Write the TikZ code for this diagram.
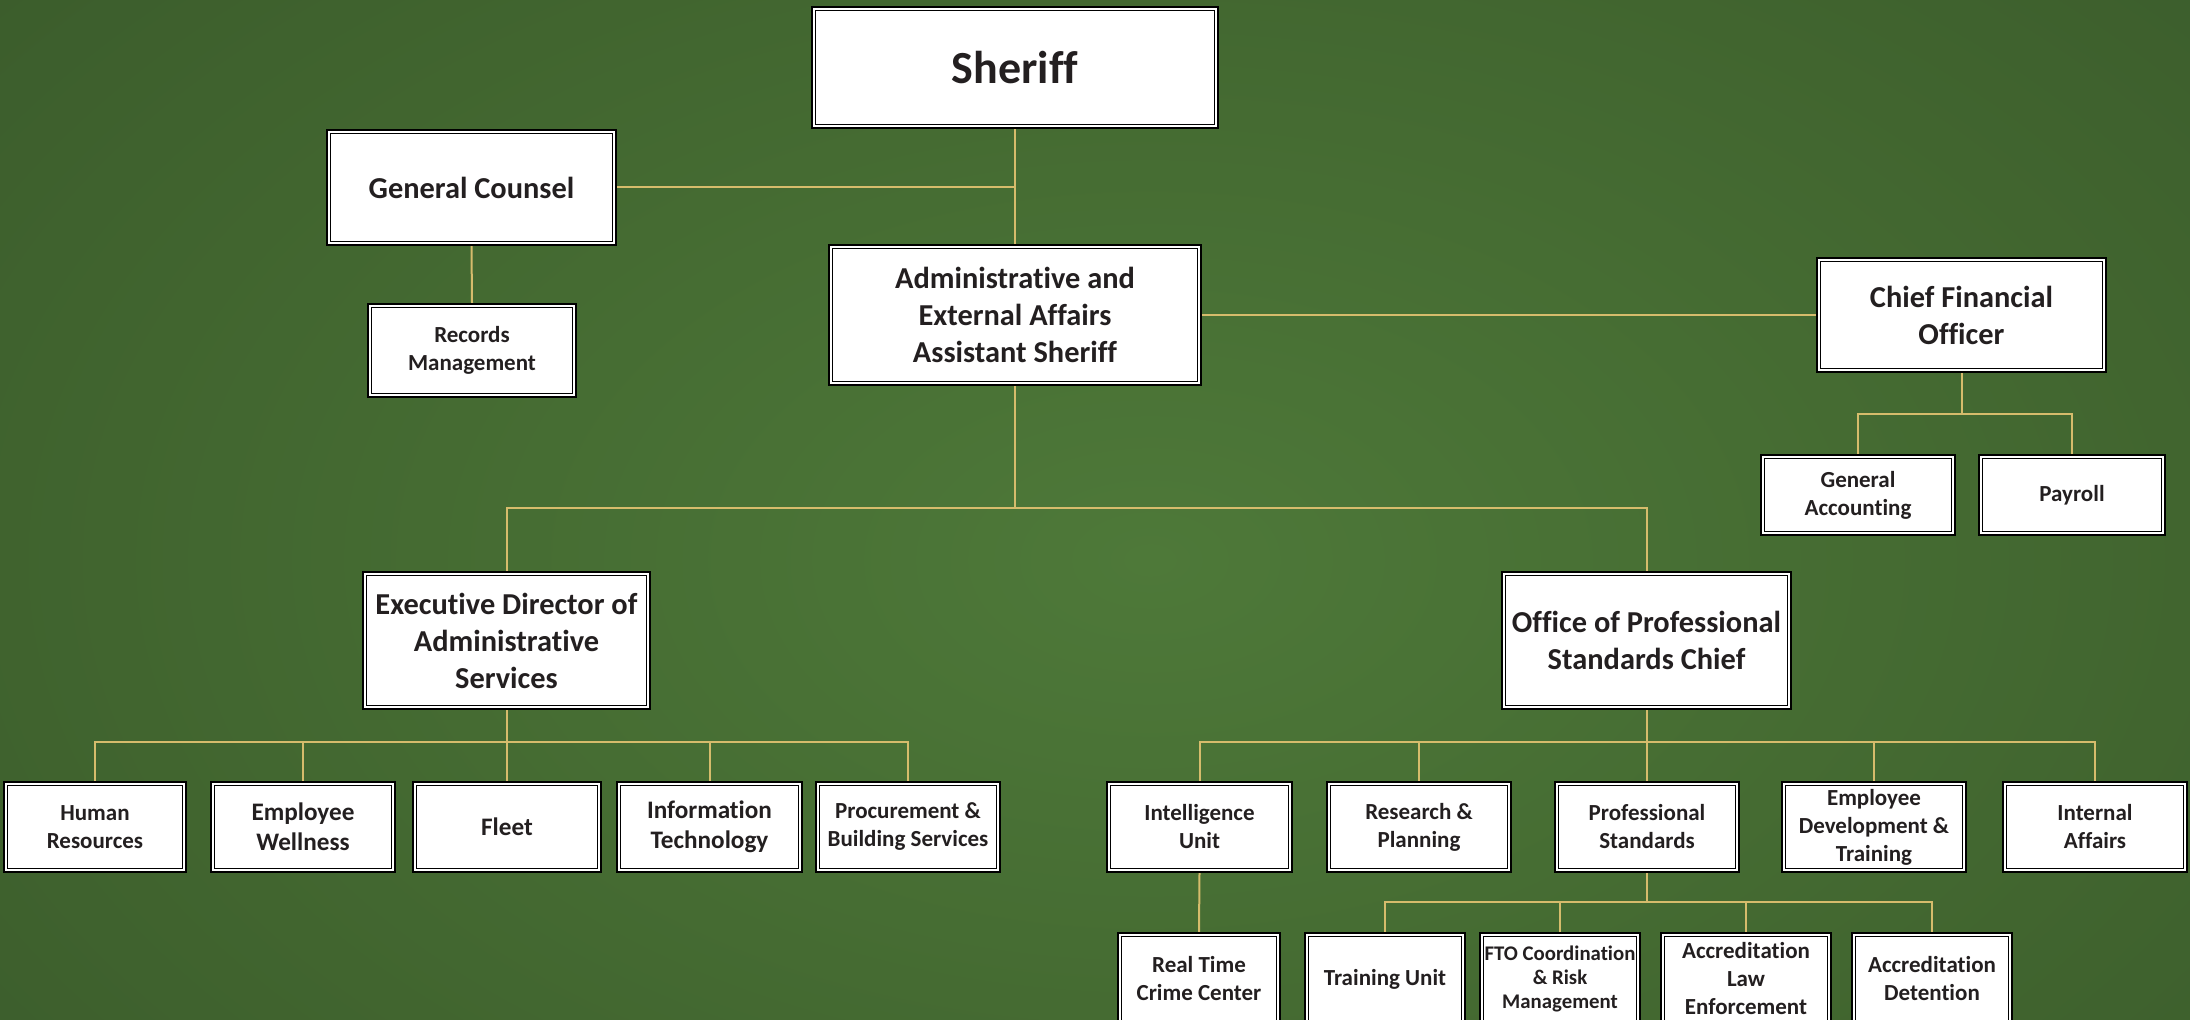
\documentclass[tikz,border=0pt]{standalone}
\usepackage{fontspec}
\setmainfont{Carlito}[Ligatures={NoCommon}]
\definecolor{bgin}{RGB}{78,121,57}
\definecolor{bgmid}{RGB}{65,101,47}
\definecolor{bgout}{RGB}{51,80,39}
\definecolor{gold}{RGB}{214,188,108}
\definecolor{ink}{RGB}{35,31,32}
\pgfdeclareradialshading{bgshade}{\pgfpointorigin}{color(0bp)=(bgin); color(20bp)=(bgmid); color(42bp)=(bgout); color(50bp)=(bgout)}
\tikzset{
  box/.style={draw=black, line width=1.15pt, fill=white, inner sep=0pt, align=center, text=ink,
    path picture={\draw[line width=0.5pt] ([shift={(1.65pt,1.65pt)}]path picture bounding box.south west) rectangle ([shift={(-1.65pt,-1.65pt)}]path picture bounding box.north east);}},
  bw/.style={minimum width={#1*0.5pt}},
  bh/.style={minimum height={#1*0.5pt}},
  bigtxt/.style={font=\bfseries\fontsize{15.2}{18.5}\selectfont},
  medtxt/.style={font=\bfseries\fontsize{12.6}{14.8}\selectfont},
  smalltxt/.style={font=\bfseries\fontsize{11.5}{14}\selectfont},
  tinytxt/.style={font=\bfseries\fontsize{10.4}{12}\selectfont},
  conn/.style={draw=gold, line width=1pt},
}
\begin{document}
\begin{tikzpicture}[x=0.5pt,y=-0.5pt]
\useasboundingbox (0,0) rectangle (2190,1020);
\clip (0,0) rectangle (2190,1020);
\shade[shading=bgshade] (-150,-240) rectangle (2450,1360);

% nodes
\node[box,bw=406,bh=121,font=\bfseries\fontsize{23}{27}\selectfont] (sheriff) at (1015,67.5) {Sheriff};
\node[box,bw=289,bh=115,bigtxt] (gc) at (471.5,187.5) {General Counsel};
\node[box,bw=208,bh=93,smalltxt] (rec) at (472,350.5) {Records\\Management};
\node[box,bw=372,bh=140,bigtxt] (admin) at (1015,315) {Administrative and\\External Affairs\\Assistant Sheriff};
\node[box,bw=289,bh=114,bigtxt] (cfo) at (1961.5,315) {Chief Financial\\Officer};
\node[box,bw=194,bh=80,smalltxt] (ga) at (1858,495) {General\\Accounting};
\node[box,bw=186,bh=80,smalltxt] (pay) at (2072,495) {Payroll};
\node[box,bw=287,bh=137,bigtxt] (exec) at (506.5,640.5) {Executive Director of\\Administrative\\Services};
\node[box,bw=289,bh=137,bigtxt] (ops) at (1646.5,640.5) {Office of Professional\\Standards Chief};

\node[box,bw=182,bh=90,smalltxt] (hr) at (95,827) {Human\\Resources};
\node[box,bw=184,bh=90,medtxt] (ew) at (303,827) {Employee\\Wellness};
\node[box,bw=188,bh=90,medtxt] (fleet) at (507,827) {Fleet};
\node[box,bw=185,bh=90,medtxt] (it) at (709.5,827) {Information\\Technology};
\node[box,bw=184,bh=90,smalltxt] (proc) at (908,827) {Procurement \&\\Building Services};

\node[box,bw=185,bh=90,smalltxt] (iu) at (1199.5,827) {Intelligence\\Unit};
\node[box,bw=184,bh=90,smalltxt] (rp) at (1419,827) {Research \&\\Planning};
\node[box,bw=184,bh=90,smalltxt] (ps) at (1647,827) {Professional\\Standards};
\node[box,bw=184,bh=90,smalltxt] (ed) at (1874,827) {Employee\\Development \&\\Training};
\node[box,bw=184,bh=90,smalltxt] (ia) at (2095,827) {Internal\\Affairs};

\node[box,bw=162,bh=92,smalltxt] (rtcc) at (1199,979) {Real Time\\Crime Center};
\node[box,bw=160,bh=92,smalltxt] (tu) at (1385,979) {Training Unit};
\node[box,bw=160,bh=92,tinytxt] (fto) at (1560,979) {FTO Coordination\\\& Risk\\Management};
\node[box,bw=170,bh=92,smalltxt] (acle) at (1746,979) {Accreditation\\Law\\Enforcement};
\node[box,bw=160,bh=92,smalltxt] (acdet) at (1932,979) {Accreditation\\Detention};

% connectors
\draw[conn] (sheriff.south) -- (admin.north);
\draw[conn] (gc.east) -- (gc.east -| sheriff.south);
\draw[conn] (gc.south) -- (rec.north);
\draw[conn] (admin.east) -- (cfo.west);
\draw[conn] (cfo.south) -- (cfo.south |- 0,414);
\draw[conn] (ga.north) |- (pay.north |- 0,414) -- (pay.north);
\draw[conn] (admin.south) -- (admin.south |- 0,508);
\draw[conn] (exec.north) |- (ops.north |- 0,508) -- (ops.north);
\draw[conn] (exec.south) -- (exec.south |- 0,742);
\draw[conn] (hr.north) |- (proc.north |- 0,742) -- (proc.north);
\foreach \n in {ew,fleet,it} \draw[conn] (\n.north) -- (\n.north |- 0,742);
\draw[conn] (ops.south) -- (ops.south |- 0,742);
\draw[conn] (iu.north) |- (ia.north |- 0,742) -- (ia.north);
\foreach \n in {rp,ps,ed} \draw[conn] (\n.north) -- (\n.north |- 0,742);
\draw[conn] (iu.south) -- (rtcc.north);
\draw[conn] (ps.south) -- (ps.south |- 0,902);
\draw[conn] (tu.north) |- (acdet.north |- 0,902) -- (acdet.north);
\foreach \n in {fto,acle} \draw[conn] (\n.north) -- (\n.north |- 0,902);
\end{tikzpicture}
\end{document}
